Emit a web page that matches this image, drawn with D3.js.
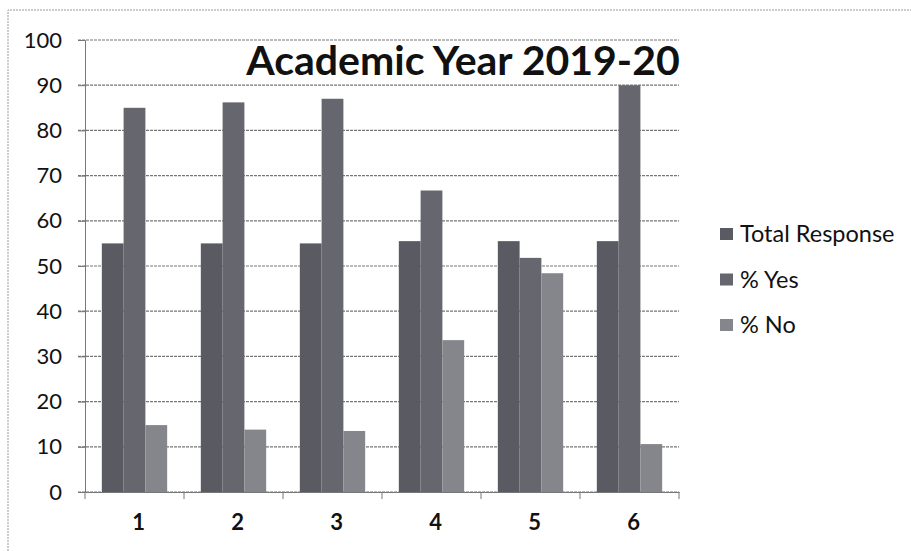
<!DOCTYPE html>
<html>
<head>
<meta charset="utf-8">
<script src="https://cdn.jsdelivr.net/npm/d3@7"></script>
<style>
  body { margin: 0; background: #fff; }
  text { font-family: Lato, "Open Sans", sans-serif; fill: #111; }
</style>
</head>
<body>
<div id="myChart"></div>
<script>
let width = 911;
let height = 551;

// data
const categories = ["1", "2", "3", "4", "5", "6"];
const seriesNames = ["Total Response", "% Yes", "% No"];
const totalResponse = [55, 55, 55, 55.5, 55.5, 55.5];
const pctYes = [85, 86.2, 87, 66.7, 51.8, 90];
const pctNo = [14.8, 13.8, 13.5, 33.6, 48.4, 10.6];
const yTicks = [0, 10, 20, 30, 40, 50, 60, 70, 80, 90, 100];
const colors = ["#5a5a62", "#66666e", "#85858c"];

let rows = categories.map((c, i) => ({
  cat: c, vals: [totalResponse[i], pctYes[i], pctNo[i]]
}));

let svg = d3.select("#myChart").append("svg")
  .attr("width", width)
  .attr("height", height);

// faint frame of the scanned chart area
svg.append("path")
  .attr("d", "M8,551 L8,10 L911,10")
  .attr("fill", "none")
  .attr("stroke", "#999")
  .attr("stroke-dasharray", "2,1");

let plotLeft = 85, plotRight = 679, plotTop = 40, plotBottom = 492;

let x = d3.scaleBand().domain(categories).range([plotLeft, plotRight]).paddingInner(0.34).paddingOuter(0.17);
let xs = d3.scaleBand().domain([0, 1, 2]).range([0, x.bandwidth()]);
let y = d3.scaleLinear().domain([0, 100]).range([plotBottom, plotTop]);

// gridlines
svg.append("g")
  .selectAll("line")
  .data(yTicks)
  .enter()
  .append("line")
  .attr("x1", plotLeft - 7)
  .attr("x2", plotRight)
  .attr("y1", d => y(d))
  .attr("y2", d => y(d))
  .attr("stroke", "#777")
  .attr("stroke-width", 1.2)
  .attr("stroke-dasharray", "3,1");

// y axis labels
svg.append("g")
  .attr("transform", `translate(${plotLeft},0)`)
  .call(d3.axisLeft(y).tickValues(yTicks).tickSize(7))
  .call(g => g.select(".domain").attr("stroke", "#777"))
  .call(g => g.selectAll(".tick line").attr("stroke", "#777"))
  .call(g => g.selectAll("text")
    .attr("x", -23)
    .style("font-size", "22px")
    .style("font-family", "Lato, sans-serif")
    .attr("fill", "#111"));

// bars
svg.append("g")
  .selectAll("g")
  .data(rows)
  .enter()
  .append("g")
  .attr("transform", d => `translate(${x(d.cat)},0)`)
  .selectAll("rect")
  .data(d => d.vals.map((v, k) => ({ k: k, v: v })))
  .enter()
  .append("rect")
  .attr("x", d => xs(d.k))
  .attr("width", xs.bandwidth())
  .attr("y", d => y(d.v))
  .attr("height", d => y(0) - y(d.v))
  .attr("fill", d => colors[d.k]);

// x axis
let xAxis = svg.append("g")
  .attr("transform", `translate(0,${plotBottom})`)
  .call(d3.axisBottom(x).tickSize(0).tickPadding(22));
xAxis.select(".domain").attr("stroke", "#777");
xAxis.selectAll("text")
  .style("font-size", "22px")
  .style("font-weight", "bold")
  .style("font-family", "Lato, sans-serif")
  .attr("dx", 4)
  .attr("fill", "#222");
// group separator ticks
let step = x.step();
svg.append("g")
  .selectAll("line")
  .data(d3.range(categories.length + 1))
  .enter()
  .append("line")
  .attr("x1", d => plotLeft + d * step)
  .attr("x2", d => plotLeft + d * step)
  .attr("y1", plotBottom)
  .attr("y2", plotBottom + 7)
  .attr("stroke", "#777");

// title
svg.append("text")
  .attr("x", 463)
  .attr("y", 75)
  .attr("text-anchor", "middle")
  .style("font-size", "41px")
  .style("font-weight", "bold")
  .text("Academic Year 2019-20");

// legend
let legend = svg.append("g")
  .selectAll("g")
  .data(seriesNames)
  .enter()
  .append("g")
  .attr("transform", (d, i) => `translate(720,${234 + i * 45.5})`);
legend.append("rect")
  .attr("x", 0)
  .attr("y", -6)
  .attr("width", 13)
  .attr("height", 12)
  .attr("fill", (d, i) => colors[i]);
legend.append("text")
  .attr("x", 20)
  .attr("y", 8)
  .style("font-size", "23.5px")
  .text(d => d);
</script>
</body>
</html>
